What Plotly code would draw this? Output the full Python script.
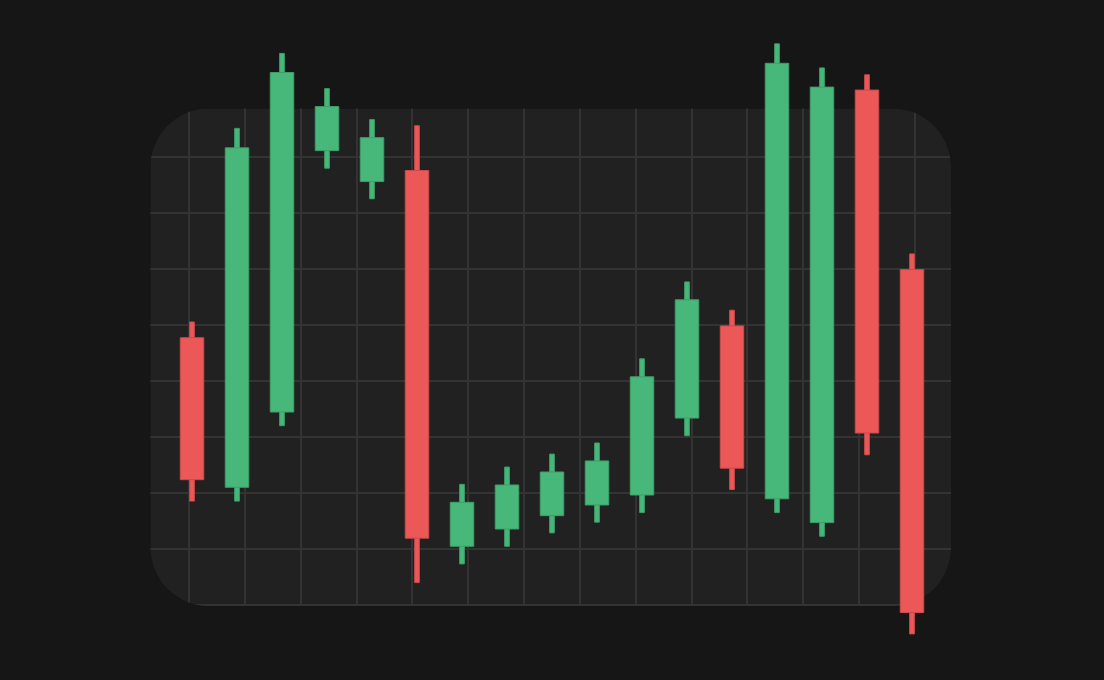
import plotly.graph_objects as go

# ---- data ----
candle_index = list(range(17))
open_ = [147.73, 121.02, 134.46, 181.14, 175.61, 177.59, 110.48, 113.57, 115.95,
         117.86, 119.64, 133.38, 149.84, 118.96, 114.71, 191.95, 159.89]
high = [150.54, 185.11, 198.50, 192.21, 186.68, 185.59, 121.55, 124.63, 126.95,
        128.93, 143.96, 157.70, 152.64, 200.21, 195.91, 194.68, 162.70]
low = [118.55, 118.55, 132.02, 178.00, 172.54, 104.00, 107.34, 110.48, 112.88,
       114.79, 116.50, 130.23, 120.61, 116.50, 112.27, 126.82, 94.84]
close = [122.38, 181.63, 195.09, 189.00, 183.46, 111.93, 118.34, 121.43, 123.75,
         125.73, 140.75, 154.50, 124.43, 196.73, 192.48, 130.71, 98.66]

# ---- style ----
W, H = 1104, 680
BG = "#161616"
PANEL = "#212121"
GRID = "#333333"
UP, UP_LINE = "#48b77a", "#3e9e69"
DOWN, DOWN_LINE = "#ec5858", "#c94b4b"

X_RANGE = [-4.2667, 20.2667]
Y_RANGE = [86.607, 208.036]


def px_x(px):
    return X_RANGE[0] + px / W * (X_RANGE[1] - X_RANGE[0])


def px_y(py):
    return Y_RANGE[1] - py / H * (Y_RANGE[1] - Y_RANGE[0])


def pt(px, py):
    return f"{px_x(px):.5f},{px_y(py):.5f}"


def rounded_rect(l, t, r_, b, rad):
    k = 0.5523 * rad
    return (
        f"M {pt(l + rad, t)} L {pt(r_ - rad, t)} "
        f"C {pt(r_ - rad + k, t)} {pt(r_, t + rad - k)} {pt(r_, t + rad)} "
        f"L {pt(r_, b - rad)} "
        f"C {pt(r_, b - rad + k)} {pt(r_ - rad + k, b)} {pt(r_ - rad, b)} "
        f"L {pt(l + rad, b)} "
        f"C {pt(l + rad - k, b)} {pt(l, b - rad + k)} {pt(l, b - rad)} "
        f"L {pt(l, t + rad)} "
        f"C {pt(l, t + rad - k)} {pt(l + rad - k, t)} {pt(l + rad, t)} Z"
    )


panel_path = rounded_rect(150.5, 108.5, 951, 606, 58)
outer_path = f"M {pt(0, 0)} L {pt(W, 0)} L {pt(W, H)} L {pt(0, H)} Z "

is_up = [c >= o for o, c in zip(open_, close)]
fill = [UP if u else DOWN for u in is_up]
edge = [UP_LINE if u else DOWN_LINE for u in is_up]
body_base = [min(o, c) for o, c in zip(open_, close)]
body_len = [abs(c - o) for o, c in zip(open_, close)]
wick_len = [h - l for h, l in zip(high, low)]

fig = go.Figure()
fig.add_trace(go.Bar(
    x=candle_index, y=wick_len, base=low, width=0.104,
    marker=dict(color=fill, line=dict(color=edge, width=1)),
    hoverinfo="skip", showlegend=False,
))
fig.add_trace(go.Bar(
    x=candle_index, y=body_len, base=body_base, width=0.522,
    marker=dict(color=fill, line=dict(color=edge, width=1)),
    hoverinfo="skip", showlegend=False,
))

fig.update_layout(
    width=W, height=H,
    margin=dict(l=0, r=0, t=0, b=0),
    paper_bgcolor=BG, plot_bgcolor=BG,
    barmode="overlay",
    showlegend=False,
    shapes=[
        dict(type="path", xref="x", yref="y", path=panel_path,
             fillcolor=PANEL, line=dict(width=0), layer="below"),
        dict(type="path", xref="x", yref="y", path=outer_path + panel_path,
             fillcolor=BG, fillrule="evenodd", line=dict(width=0),
             layer="between"),
    ],
    xaxis=dict(range=X_RANGE, showgrid=True, gridcolor=GRID, gridwidth=1.5,
               tickmode="linear", tick0=-0.0667, dtick=1.2411,
               showticklabels=False, zeroline=False, showline=False,
               ticks="", fixedrange=True),
    yaxis=dict(range=Y_RANGE, showgrid=True, gridcolor=GRID, gridwidth=1.5,
               tickmode="linear", tick0=100, dtick=10,
               showticklabels=False, zeroline=False, showline=False,
               ticks="", fixedrange=True),
)

fig.write_html(
    "out.html",
    config={"displayModeBar": False},
    post_script="document.body.style.margin='0';"
                "document.body.style.overflow='hidden';"
                "document.body.style.background='#161616';",
)
